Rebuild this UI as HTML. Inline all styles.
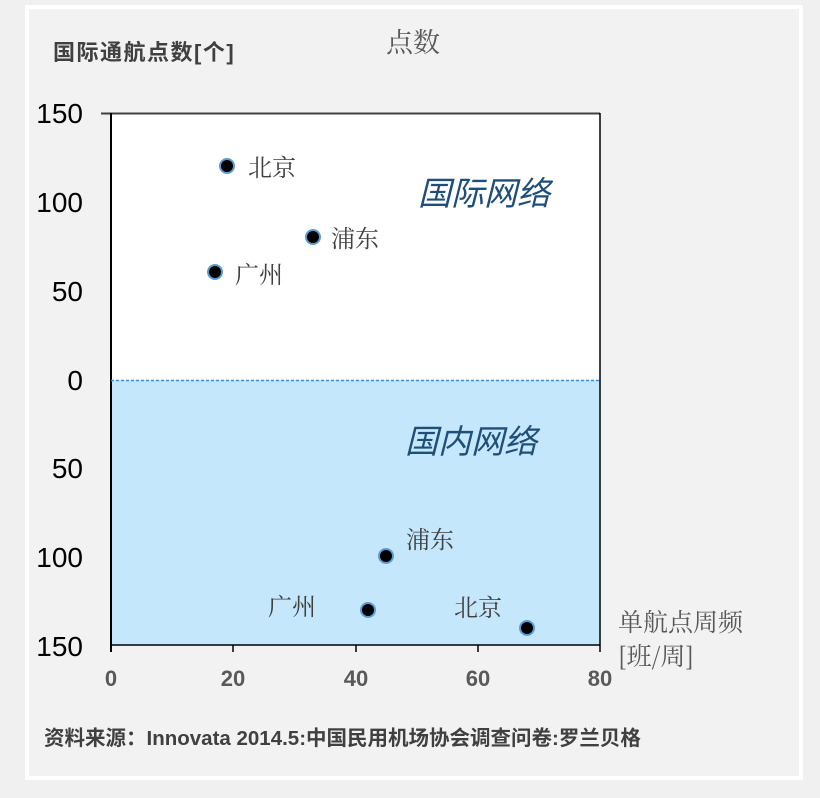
<!DOCTYPE html>
<html><head><meta charset="utf-8"><style>
body{margin:0;background:#f0f0f0;}
svg{display:block;}
</style></head><body>
<svg width="820" height="798" xmlns="http://www.w3.org/2000/svg" font-family="Liberation Sans, Noto Sans CJK SC, sans-serif">
<rect x="0" y="0" width="820" height="798" fill="#f0f0f0"/>
<rect x="27" y="7" width="774" height="771" fill="#f2f2f2" stroke="#ffffff" stroke-width="4"/>
<text x="53" y="60" font-size="22" font-weight="bold" fill="#404040" letter-spacing="1.5">国际通航点数[个]</text>
<text x="386" y="52" font-size="27" fill="#595959" font-family="Noto Serif CJK SC, serif">点数</text>
<rect x="111" y="113" width="489" height="267" fill="#ffffff"/>
<rect x="111" y="380" width="489" height="265" fill="#c5e7fb"/>
<line x1="101" y1="113.5" x2="600" y2="113.5" stroke="#404040" stroke-width="2"/>
<line x1="600" y1="113" x2="600" y2="652" stroke="#000" stroke-width="1.5"/>
<line x1="111" y1="113" x2="111" y2="652" stroke="#000" stroke-width="2"/>
<line x1="111" y1="645" x2="600" y2="645" stroke="#000" stroke-width="1.5"/>
<g stroke="#000" stroke-width="1.5">
<line x1="233" y1="645" x2="233" y2="652"/><line x1="356" y1="645" x2="356" y2="652"/><line x1="478" y1="645" x2="478" y2="652"/>
</g>
<line x1="111" y1="380.5" x2="600" y2="380.5" stroke="#3a8fd6" stroke-width="1.5" stroke-dasharray="3,2"/>
<g font-size="28" fill="#000" text-anchor="end">
<text x="83" y="123">150</text><text x="83" y="212">100</text><text x="83" y="301">50</text>
<text x="83" y="390">0</text><text x="83" y="478">50</text><text x="83" y="567">100</text><text x="83" y="656">150</text>
</g>
<g font-size="22" font-weight="bold" fill="#595959" text-anchor="middle">
<text x="111" y="686">0</text><text x="233" y="686">20</text><text x="356" y="686">40</text><text x="478" y="686">60</text><text x="600" y="686">80</text>
</g>
<g fill="#000" stroke="#5b9bd5" stroke-width="2">
<circle cx="227" cy="166" r="7"/><circle cx="313" cy="237" r="7"/><circle cx="215" cy="272" r="7"/>
<circle cx="386" cy="556" r="7"/><circle cx="368" cy="610" r="7"/><circle cx="527" cy="628" r="7"/>
</g>
<g font-size="24" fill="#404040" font-family="Noto Serif CJK SC, serif">
<text x="248" y="176">北京</text><text x="331" y="247">浦东</text><text x="235" y="283">广州</text>
<text x="406" y="548">浦东</text><text x="268" y="615">广州</text><text x="454" y="616">北京</text>
</g>
<g font-size="33" font-style="italic" fill="#1f4e79">
<text x="418" y="205">国际网络</text><text x="405" y="453">国内网络</text>
</g>
<g font-size="25" fill="#595959" font-family="Noto Serif CJK SC, serif">
<text x="618" y="631">单航点周频</text><text x="618" y="665">[班/周]</text>
</g>
<text x="44" y="745" font-size="20.5" font-weight="bold" fill="#404040">资料来源：Innovata 2014.5:中国民用机场协会调查问卷:罗兰贝格</text>
</svg>
</body></html>
